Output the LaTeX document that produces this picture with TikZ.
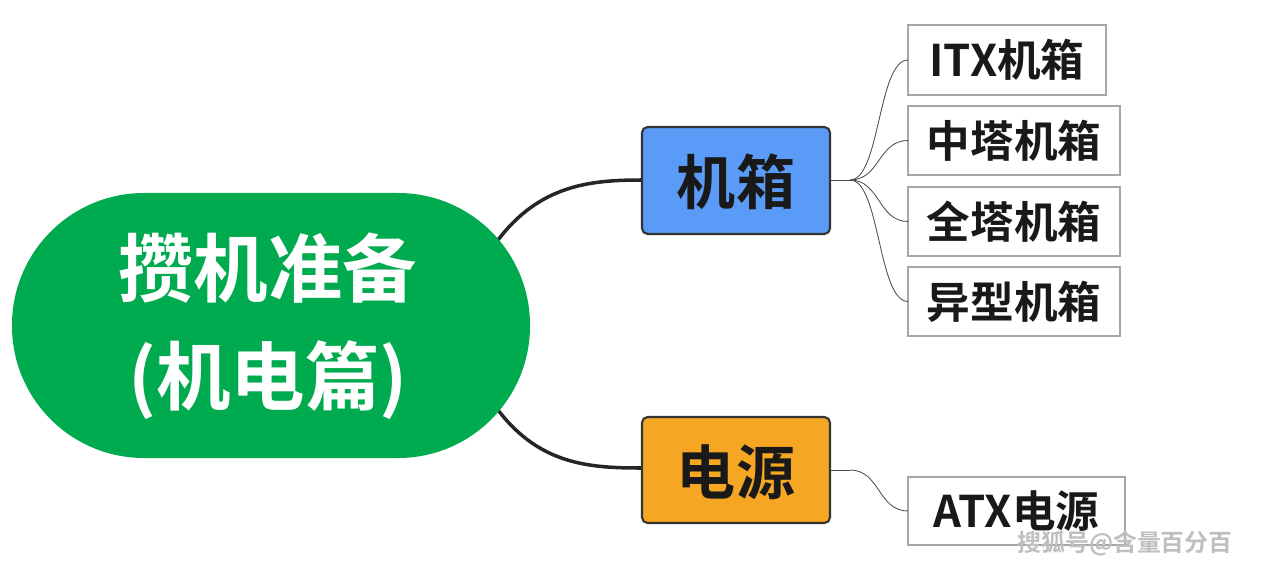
\documentclass[tikz,border=0pt]{standalone}
\usepackage{fontspec}
\newfontfamily\cjk{Noto Sans CJK SC Bold}
\begin{document}
\begin{tikzpicture}[x=0.025cm,y=-0.025cm,
  main/.style={fill=mgreen,rounded corners=132*0.025cm,draw=none},
  mid/.style={draw=gray!40!black,line width=1.5pt,rounded corners=4pt},
  leaf/.style={draw=gray!70,line width=0.8pt,fill=white},
  big/.style={line width=2.5pt,draw=gray!30!black},
  thin/.style={line width=0.6pt,draw=gray!60!black}]
\definecolor{mgreen}{HTML}{00AA4F}
\definecolor{mblue}{HTML}{5B9BF8}
\definecolor{morange}{HTML}{F5A623}
\useasboundingbox (0,0) rectangle (1268,571);
\coordinate (ma) at (498,240);
\coordinate (mb) at (498,410);
\draw[big] (ma) .. controls (540,185) and (590,180) .. (642,180);
\draw[big] (mb) .. controls (540,465) and (590,468) .. (642,468);
\fill[main] (12,193) rectangle (530,458);
\node[text=white,align=center,font=\cjk\fontsize{53}{77}\selectfont] (root) at (268,326) {攒机准备\\(机电篇)};
\draw[mid,fill=mblue] (642,127) rectangle (830,234);
\node[font=\cjk\fontsize{42}{44}\selectfont,text=gray!20!black] (jx) at (736,182) {机箱};
\draw[mid,fill=morange] (642,417) rectangle (830,523);
\node[font=\cjk\fontsize{42}{44}\selectfont,text=gray!20!black] (dy) at (736,472) {电源};
\coordinate (j0) at (830,180);
\coordinate (j1) at (850,180);
\coordinate (d0) at (830,470);
\coordinate (d1) at (850,470);
\draw[thin] (j0)--(j1);
\draw[thin] (d0)--(d1);
\foreach \n/\xa/\ya/\xb/\yb/\t/\s in {a/908/25/1106/95/ITX机箱/j1,b/908/106/1120/175/中塔机箱/j1,c/908/187/1120/256/全塔机箱/j1,d/908/267/1120/336/异型机箱/j1,e/908/477/1125/545/ATX电源/d1}{
  \draw[leaf] (\xa,\ya) rectangle (\xb,\yb);
  \node[font=\cjk\fontsize{31}{33}\selectfont,text=gray!20!black] (\n) at ({(\xa+\xb)/2},{(\ya+\yb)/2}) {\t};
  \draw[thin] (\s) .. controls ++(30,0) and ++(-30,0) .. (\xa,{(\ya+\yb)/2});
}
\node[font=\cjk\fontsize{17}{18}\selectfont,text=gray!50] (wm) at (1125,544) {搜狐号@含量百分百};
\end{tikzpicture}
\end{document}
